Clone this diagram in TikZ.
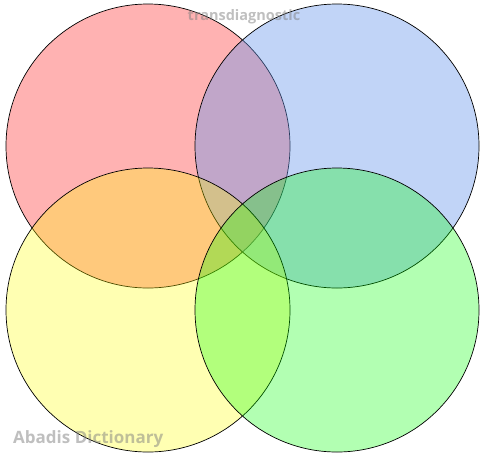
\documentclass[tikz,border=0pt]{standalone}
\usepackage{fontspec}
\setmainfont{Liberation Sans}
\newfontfamily\wmfont{Open Sans}
\definecolor{cred}{RGB}{255,0,0}
\definecolor{cblue}{RGB}{100,149,237}
\definecolor{cyellow}{RGB}{255,255,0}
\definecolor{cgreen}{RGB}{0,255,0}
\begin{document}
\begin{tikzpicture}[x=1pt,y=-1pt,
  venn/.style={draw=black,line width=0.7pt,fill opacity=0.3},
  wm/.style={text=gray,opacity=0.5,inner sep=0pt}]
\useasboundingbox (0,0) rectangle (486,456);
\fill[white] (0,0) rectangle (486,456);
\coordinate (cr) at (148,146);
\coordinate (cb) at (337,146);
\coordinate (cy) at (148,310);
\coordinate (cg) at (337,310);
\draw[venn,fill=cred] (cr) circle[radius=142];
\draw[venn,fill=cblue,fill opacity=0.4] (cb) circle[radius=142];
\draw[venn,fill=cyellow] (cy) circle[radius=142];
\draw[venn,fill=cgreen] (cg) circle[radius=142];
\node[wm,font=\wmfont\bfseries\fontsize{14.5}{16}\selectfont] (t1) at (244,17) {transdiagnostic};
\node[wm,font=\wmfont\bfseries\fontsize{17}{20}\selectfont,anchor=west] (t2) at (13,439) {Abadis Dictionary};
\end{tikzpicture}
\end{document}
